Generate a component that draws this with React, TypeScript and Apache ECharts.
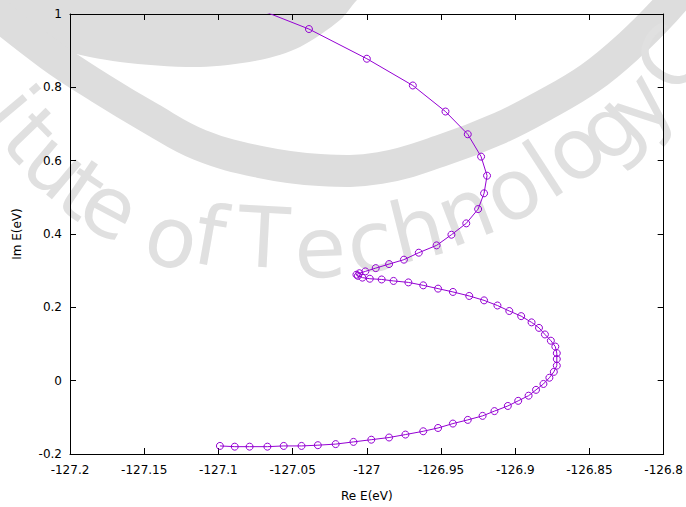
import React, { useEffect, useRef } from "react";
import * as echarts from "echarts";

// Trajectory of the complex energy E = Re E + i Im E (eV)
const reE: number[] = [
  -127.099, -127.089, -127.079, -127.067, -127.056, -127.044, -127.033, -127.021,
  -127.009, -126.997, -126.985, -126.974, -126.962, -126.952, -126.942, -126.932,
  -126.922, -126.914, -126.905, -126.898, -126.891, -126.886, -126.881, -126.877,
  -126.874, -126.872, -126.872, -126.872, -126.873, -126.876, -126.88, -126.884,
  -126.889, -126.896, -126.904, -126.912, -126.921, -126.931, -126.942, -126.952,
  -126.962, -126.972, -126.982, -126.99, -126.998, -127.003, -127.006, -127.007,
  -127.005, -127.001, -126.994, -126.985, -126.975, -126.965, -126.953, -126.943,
  -126.933, -126.925, -126.921, -126.919, -126.923, -126.932, -126.947, -126.969,
  -127.0, -127.039, -127.081,
];
const imE: number[] = [
  -0.178, -0.18, -0.18, -0.18, -0.178, -0.178, -0.176, -0.173,
  -0.167, -0.161, -0.155, -0.147, -0.138, -0.129, -0.117, -0.107,
  -0.096, -0.083, -0.069, -0.055, -0.041, -0.025, -0.009, 0.008,
  0.024, 0.041, 0.059, 0.075, 0.093, 0.109, 0.126, 0.144,
  0.159, 0.176, 0.19, 0.205, 0.219, 0.231, 0.242, 0.251,
  0.26, 0.268, 0.272, 0.276, 0.278, 0.281, 0.286, 0.289,
  0.293, 0.298, 0.307, 0.318, 0.33, 0.349, 0.369, 0.398,
  0.429, 0.468, 0.511, 0.559, 0.611, 0.672, 0.734, 0.805,
  0.878, 0.959, 1.026,
];

const xRange = { min: -127.2, max: -126.8, step: 0.05 };
const yRange = { min: -0.2, max: 1, step: 0.2 };

const xTitle = "Re E(eV)";
const yTitle = "Im E(eV)";

// Background emblem: letters of the institute name laid along an arc
const stampLetters: string[] = [
  "i", "t", "u", "t", "e", "o", "f", "T", "e", "c", "h", "n", "o", "l", "o", "g", "y", "C",
];
const stampPlacement: [number, number, number][] = [
  [12, 108, 50], [30, 135, 46], [56, 165, 40], [82, 190, 34], [110, 207, 28],
  [172, 238, 15], [210, 236, 10], [264, 238, 3], [320, 248, -2], [370, 242, -8],
  [417, 230, -14], [465, 212, -21], [512, 190, -28], [544, 170, -33], [574, 150, -39],
  [608, 128, -45], [640, 103, -50], [672, 58, -58],
];
const ringPath: [number, number][] = [
  [-20, 0], [50, 55], [100, 88], [150, 118], [200, 145], [260, 162], [320, 170],
  [380, 168], [443, 150], [500, 128], [543, 106], [590, 78], [630, 45], [665, 10], [695, -25],
];
const innerPatch: [number, number][] = [
  [-10, -10], [370, -10], [357, 0], [340, 20], [300, 47], [260, 60], [200, 67],
  [120, 62], [60, 50], [20, 35], [-10, 20],
];

const FONT = "DejaVu Sans";
const STAMP = "#dddddd";

function fmt(v: number): string {
  const r = Math.round(v * 100) / 100;
  return String(Number(r.toFixed(2)));
}

export default function App() {
  const ref = useRef<HTMLDivElement>(null);

  useEffect(() => {
    if (!ref.current) return;
    document.body.style.margin = "0";
    document.body.style.overflow = "hidden";
    const chart = echarts.init(ref.current, undefined, { renderer: "svg" });

    const points = reE.map((x, i) => [x, imE[i]]);

    const graphics: any[] = [
      {
        type: "polygon",
        z: -100,
        silent: true,
        shape: { points: innerPatch, smooth: 0.3 },
        style: { fill: STAMP, stroke: null },
      },
      {
        type: "polyline",
        z: -100,
        silent: true,
        shape: { points: ringPath, smooth: 0.4 },
        style: { stroke: STAMP, lineWidth: 32, fill: null },
      },
      ...stampLetters.map((ch, i) => {
        const [x, y, deg] = stampPlacement[i];
        return {
          type: "text",
          z: -100,
          silent: true,
          x,
          y,
          rotation: (-deg * Math.PI) / 180,
          style: {
            text: ch,
            fontSize: 84,
            fontFamily: FONT,
            fill: "#e0e0e0",
            align: "center",
            verticalAlign: "middle",
          },
        };
      }),
    ];

    const axisCommon = {
      type: "value" as const,
      axisLine: { show: true, onZero: false, lineStyle: { color: "#000", width: 1 } },
      axisTick: { show: true, inside: true, length: 6, lineStyle: { color: "#000" } },
      splitLine: { show: false },
    };

    chart.setOption({
      animation: false,
      backgroundColor: "#fff",
      graphic: graphics,
      grid: { left: 70, right: 20, top: 14, bottom: 49, containLabel: false },
      xAxis: [
        {
          ...axisCommon,
          min: xRange.min,
          max: xRange.max,
          interval: xRange.step,
          position: "bottom",
          name: xTitle,
          nameLocation: "middle",
          nameGap: 36,
          nameTextStyle: { fontFamily: FONT, fontSize: 12, color: "#000" },
          axisLabel: {
            fontFamily: FONT,
            fontSize: 12,
            color: "#000",
            margin: 10,
            formatter: (v: number) => fmt(v),
          },
        },
        {
          ...axisCommon,
          min: xRange.min,
          max: xRange.max,
          interval: xRange.step,
          position: "top",
          axisLabel: { show: false },
        },
      ],
      yAxis: [
        {
          ...axisCommon,
          min: yRange.min,
          max: yRange.max,
          interval: yRange.step,
          position: "left",
          name: yTitle,
          nameLocation: "middle",
          nameGap: 47,
          nameTextStyle: { fontFamily: FONT, fontSize: 12, color: "#000" },
          axisLabel: {
            fontFamily: FONT,
            fontSize: 12,
            color: "#000",
            margin: 8,
            formatter: (v: number) => fmt(v),
          },
        },
        {
          ...axisCommon,
          min: yRange.min,
          max: yRange.max,
          interval: yRange.step,
          position: "right",
          axisLabel: { show: false },
        },
      ],
      series: [
        {
          type: "line",
          data: points,
          xAxisIndex: 0,
          yAxisIndex: 0,
          clip: true,
          symbol: "circle",
          symbolSize: 7,
          showAllSymbol: true,
          lineStyle: { color: "#9400d3", width: 1 },
          itemStyle: { color: "rgba(0,0,0,0)", borderColor: "#9400d3", borderWidth: 1 },
          emphasis: { disabled: true },
          z: 5,
        },
      ],
    });

    return () => chart.dispose();
  }, []);

  return (
    <div
      ref={ref}
      style={{ position: "fixed", left: 0, top: 0, width: 686, height: 507 }}
    />
  );
}
